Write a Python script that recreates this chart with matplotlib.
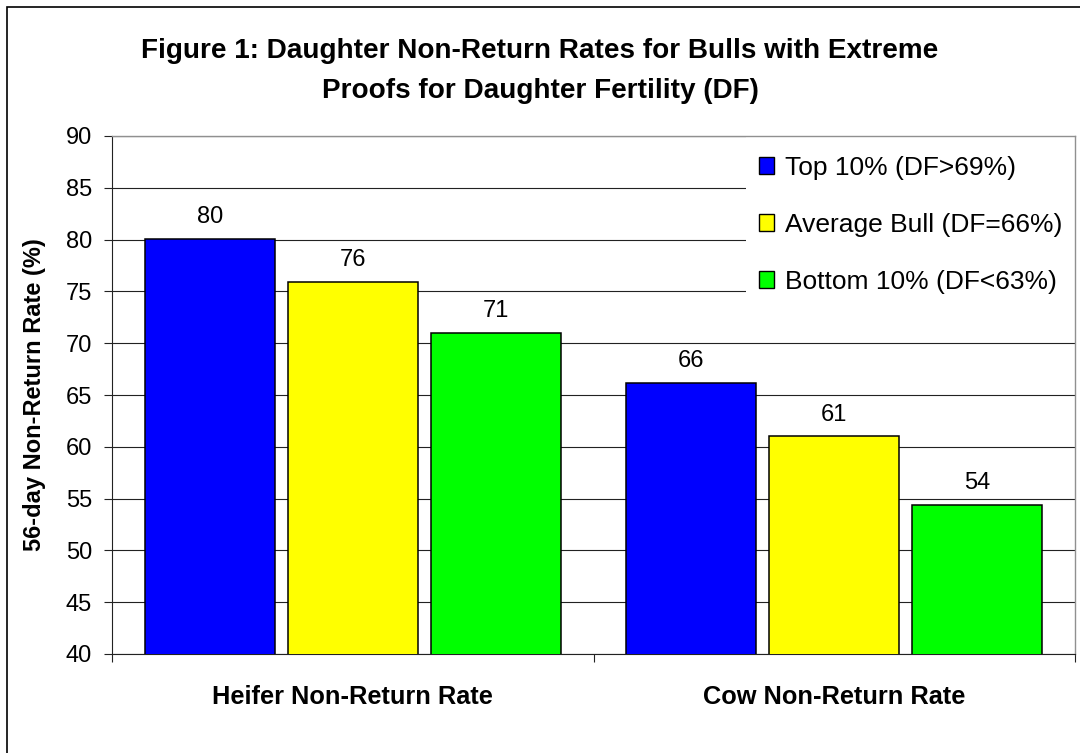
import matplotlib
matplotlib.use("Agg")
import matplotlib.pyplot as plt
from matplotlib.patches import Rectangle, Patch
import matplotlib.transforms as mtransforms

plt.rcParams['font.family'] = ['Liberation Sans', 'DejaVu Sans']

categories = ["Heifer Non-Return Rate", "Cow Non-Return Rate"]
series_names = ["Top 10% (DF>69%)", "Average Bull (DF=66%)", "Bottom 10% (DF<63%)"]
top10 = [80.1, 66.2]
average = [75.9, 61.0]
bottom10 = [71.0, 54.4]
labels_top10 = ["80", "66"]
labels_average = ["76", "61"]
labels_bottom10 = ["71", "54"]
yticks = [40, 45, 50, 55, 60, 65, 70, 75, 80, 85, 90]
colors = ["#0000FF", "#FFFF00", "#00FF00"]

W, H = 1080, 753
fig = plt.figure(figsize=(W / 100, H / 100), dpi=100)
ax = fig.add_axes([112 / W, 1 - 654 / H, (1075 - 112) / W, (654 - 136) / H])

offsets = [-0.297, 0.0, 0.297]
bw = 0.27
series = [top10, average, bottom10]
slabels = [labels_top10, labels_average, labels_bottom10]
for s, (vals, labs, col, off, name) in enumerate(zip(series, slabels, colors, offsets, series_names)):
    xs = [i + off for i in range(len(categories))]
    ax.bar(xs, vals, width=bw, color=col, edgecolor='black', linewidth=1.1, zorder=3, label=name)
    for x, v, t in zip(xs, vals, labs):
        ax.annotate(t, (x, v), xytext=(0, 11.3), textcoords='offset points',
                    ha='center', va='baseline', fontsize=17, zorder=4)

ax.set_ylim(40, 90)
ax.set_xlim(-0.5, 1.5)
ax.set_yticks(yticks)
ax.set_yticklabels([str(v) for v in yticks], fontsize=17)
ax.yaxis.grid(True, color='#222222', linewidth=0.8, zorder=0.5)
ax.set_axisbelow(True)
ax.tick_params(axis='y', length=5.8, width=0.8, pad=8.6, color='#222222')
ax.set_xticks([-0.5, 0.5, 1.5])
ax.set_xticklabels([])
ax.tick_params(axis='x', length=5.8, width=0.8, color='#222222')

for sp in ['left', 'bottom']:
    ax.spines[sp].set_color('#222222')
    ax.spines[sp].set_linewidth(0.8)
for sp in ['top', 'right']:
    ax.spines[sp].set_color('#909090')
    ax.spines[sp].set_linewidth(1.0)

trans = mtransforms.blended_transform_factory(ax.transData, ax.transAxes)
for i, c in enumerate(categories):
    ax.text(i, (654 - 704) / 518, c, transform=trans, ha='center', va='baseline',
            fontsize=18.3, fontweight='bold')

# white legend area covering gridlines
ax.add_patch(Rectangle((0.658, 0.625), 0.342, 0.375, transform=ax.transAxes,
                       facecolor='white', edgecolor='none', zorder=1))

handles = [Patch(facecolor=c, edgecolor='black', linewidth=1.0) for c in colors]
leg = ax.legend(handles, series_names, loc='upper left',
                bbox_to_anchor=((759 - 112) / 963, (654 - 156) / 518),
                frameon=False, fontsize=19, handlelength=0.58, handleheight=0.58,
                handletextpad=0.4, labelspacing=1.25, borderpad=0, borderaxespad=0)

fig.text(35 / W, 1 - 395 / H, "56-day Non-Return Rate (%)", rotation=90,
         ha='center', va='center', fontsize=17, fontweight='bold')

fig.text(0.5, 1 - 58 / H, "Figure 1: Daughter Non-Return Rates for Bulls with Extreme",
         ha='center', va='baseline', fontsize=20.1, fontweight='bold')
fig.text(0.5, 1 - 98 / H, "Proofs for Daughter Fertility (DF)",
         ha='center', va='baseline', fontsize=20.1, fontweight='bold')

# outer chart border
fig.patches.append(Rectangle((7 / W, -0.1), 1.2, 1 - 7 / H + 0.1, transform=fig.transFigure,
                             facecolor='none', edgecolor='black', linewidth=1.2))

fig.savefig("out.png", dpi=100)
